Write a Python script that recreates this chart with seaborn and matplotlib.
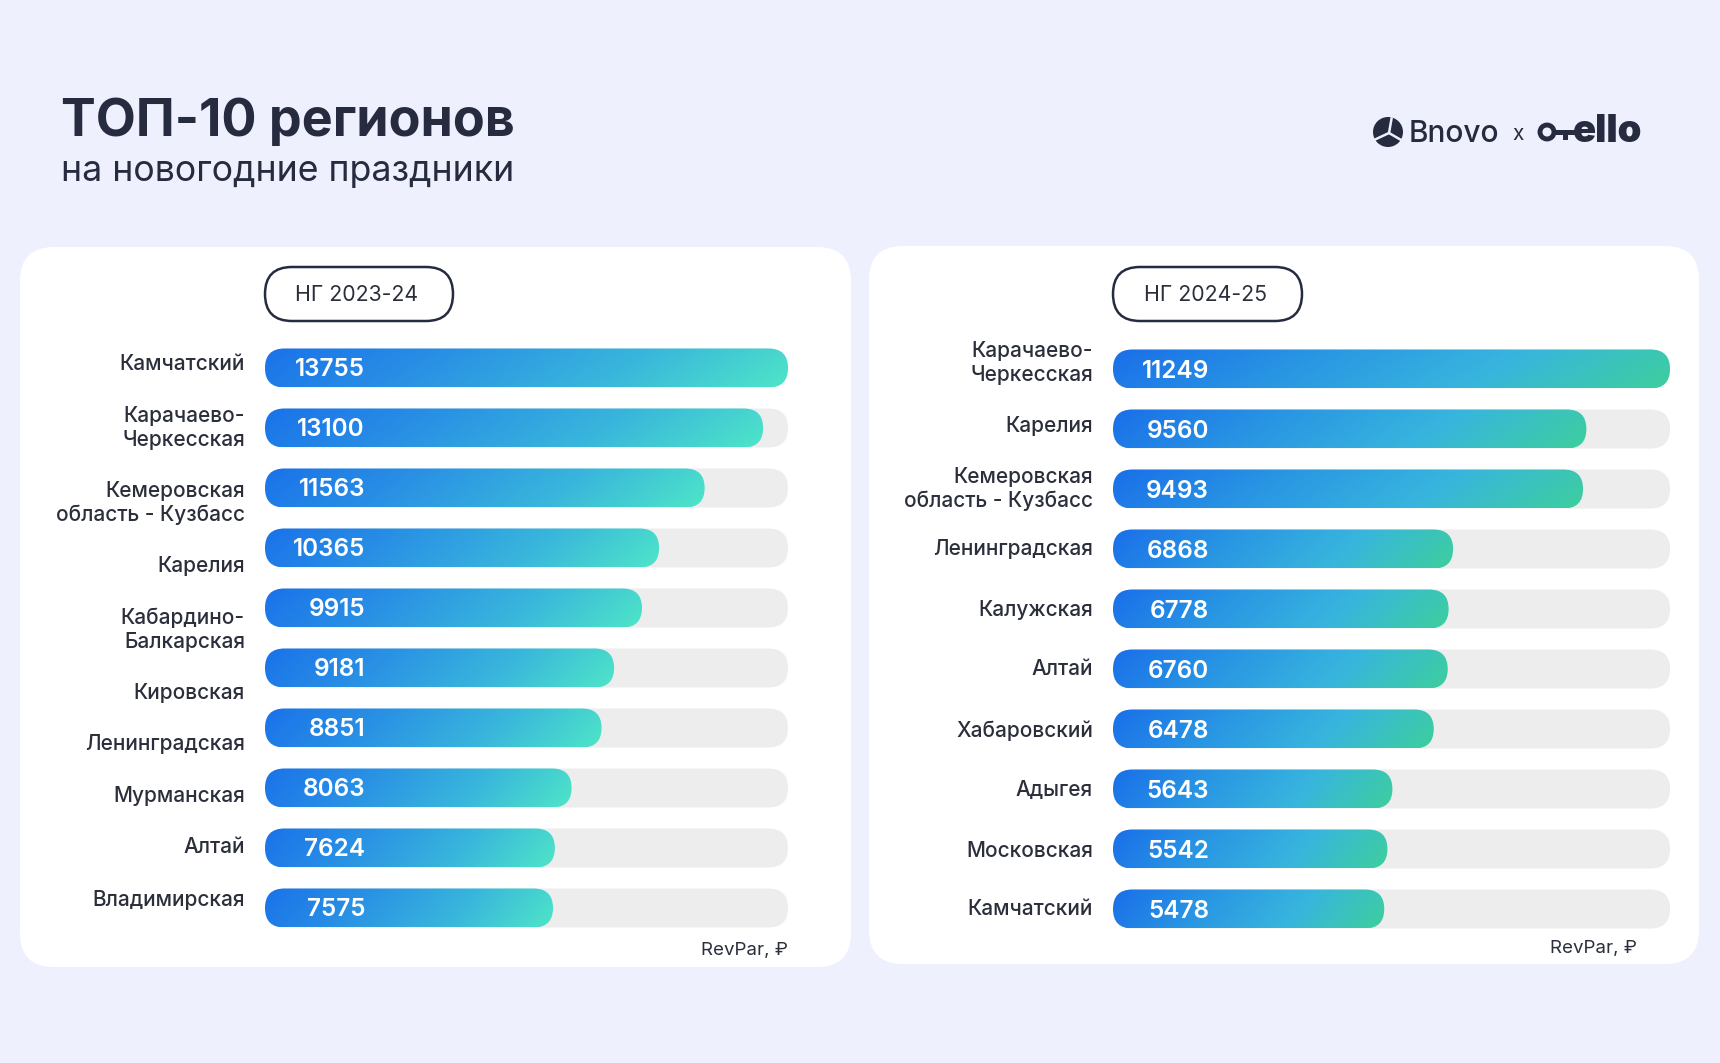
import numpy as np
import pandas as pd
import matplotlib.pyplot as plt
import seaborn as sns
from matplotlib.patches import FancyBboxPatch, Circle, Rectangle
from matplotlib.colors import LinearSegmentedColormap
from matplotlib.transforms import offset_copy

# данные: RevPar по регионам на новогодние праздники
regions_2324 = ["Камчатский", "Карачаево-\nЧеркесская", "Кемеровская\nобласть - Кузбасс",
                "Карелия", "Кабардино-\nБалкарская", "Кировская", "Ленинградская",
                "Мурманская", "Алтай", "Владимирская"]
revpar_2324 = [13755, 13100, 11563, 10365, 9915, 9181, 8851, 8063, 7624, 7575]

regions_2425 = ["Карачаево-\nЧеркесская", "Карелия", "Кемеровская\nобласть - Кузбасс",
                "Ленинградская", "Калужская", "Алтай", "Хабаровский", "Адыгея",
                "Московская", "Камчатский"]
revpar_2425 = [11249, 9560, 9493, 6868, 6778, 6760, 6478, 5643, 5542, 5478]

period_labels = ["НГ 2023-24", "НГ 2024-25"]
unit_label = "RevPar, ₽"

# стиль
BG = "#eef1fd"
DARK = "#262b3f"
TEXT = "#2b2f3b"
TRACK = "#ededed"

sns.set_theme(style="white")
plt.rcParams['font.family'] = ['Inter', 'DejaVu Sans']

W, H = 1720, 1063
fig = plt.figure(figsize=(W / 100, H / 100), dpi=100)
fig.patch.set_facecolor(BG)

# фон в пиксельных координатах
bg = fig.add_axes([0, 0, 1, 1])
bg.set_xlim(0, W)
bg.set_ylim(H, 0)
bg.axis('off')

bg.text(61, 136, "ТОП-10 регионов", fontsize=37.5, fontweight='bold', color=DARK, va='baseline')
bg.text(61, 181, "на новогодние праздники", fontsize=25.7, color=DARK, va='baseline')

# логотип
bg.add_patch(Circle((1388, 132), 15, fc=DARK, ec='none'))
for ang in [80, 205, 330]:
    a = np.deg2rad(ang)
    bg.plot([1389, 1389 + 16 * np.cos(a)], [133, 133 - 16 * np.sin(a)], color=BG, lw=1.8,
            solid_capstyle='butt')
bg.text(1409, 142, "Bnovo", fontsize=21.5, fontweight='medium', color=DARK, va='baseline')
bg.text(1518, 140, "x", fontsize=15, color=DARK, va='baseline', ha='center')
bg.add_patch(Circle((1547, 132), 7, fc='none', ec=DARK, lw=3.5))
bg.add_patch(Rectangle((1553, 129.5), 24, 5.5, fc=DARK, ec='none'))
bg.add_patch(Rectangle((1563, 133), 5, 7, fc=DARK, ec='none'))
bg.text(1573, 142, "ello", fontsize=27.5, fontweight='black', color=DARK, va='baseline')

# карточки и подписи периодов
cards = [(20, 247, 831, 720), (869, 246, 830, 718)]
pills = [(265, 267, 188, 54), (1113, 267, 189, 54)]
for (cx, cy, cw, ch), (px, py, pw, ph), lab in zip(cards, pills, period_labels):
    bg.add_patch(FancyBboxPatch((cx, cy), cw, ch, boxstyle="round,pad=0,rounding_size=34",
                                fc='white', ec='none'))
    bg.add_patch(FancyBboxPatch((px, py), pw, ph, boxstyle=f"round,pad=0,rounding_size={ph / 2}",
                                fc='white', ec=DARK, lw=1.8))
    bg.text(px + pw / 2 - 2, py + ph / 2 + 1, lab, fontsize=15.3, color=TEXT, ha='center', va='center')

bg.text(788, 950, unit_label, fontsize=13.5, color=TEXT, ha='right', va='center')
bg.text(1637, 948, unit_label, fontsize=13.5, color=TEXT, ha='right', va='center')

cmap_left = LinearSegmentedColormap.from_list("l", ["#1a72ea", "#2a92e4", "#39b6dc", "#4ee5c8"])
cmap_right = LinearSegmentedColormap.from_list("r", ["#1a6fe9", "#2996e3", "#38b5de", "#3dcf9e"])

u = np.linspace(0, 1, 256)
v = np.linspace(0, 1, 24)
grad = np.clip(0.9 * u[None, :] + 0.1 * v[:, None], 0, 1)


def draw_panel(box, regions, values, cmap, label_dy, value_dx):
    x0, y0, x1, y1 = box
    ax = fig.add_axes([x0 / W, 1 - y1 / H, (x1 - x0) / W, (y1 - y0) / H])
    df = pd.DataFrame({"region": regions, "revpar": values})
    sns.barplot(data=df, x="revpar", y="region", orient="h", width=0.65, color=cmap(0.0), ax=ax)
    n = len(values)
    vmax = max(values)
    ax.set_xlim(0, vmax)
    ax.set_ylim(n - 0.5, -0.5)
    ax.axis('off')

    px_x = (x1 - x0) / vmax
    px_y = (y1 - y0) / n
    bars = sorted(ax.patches, key=lambda p: p.get_y())
    for i, p in enumerate(bars):
        bx, by, bw, bh = p.get_x(), p.get_y(), p.get_width(), p.get_height()
        p.set_visible(False)
        r = bh * px_y / 2 / px_x
        style = f"round,pad=0,rounding_size={r}"
        ax.add_patch(FancyBboxPatch((0, by), vmax, bh, boxstyle=style, mutation_aspect=px_x / px_y,
                                    fc=TRACK, ec='none', zorder=1))
        clip = FancyBboxPatch((bx, by), bw, bh, boxstyle=style, mutation_aspect=px_x / px_y,
                              fc='none', ec='none', zorder=2)
        ax.add_patch(clip)
        im = ax.imshow(grad, cmap=cmap, extent=(bx, bx + bw, by + bh, by), aspect='auto',
                       interpolation='bicubic', zorder=3)
        im.set_clip_path(clip)
        yc = by + bh / 2
        tv = offset_copy(ax.transData, fig=fig, x=value_dx, y=-8.5, units='dots')
        ax.text(0, yc, f"{values[i]}", transform=tv, fontsize=17.5, fontweight='semibold',
                color='white', ha='right', va='baseline', zorder=4)
        tl = offset_copy(ax.transData, fig=fig, x=-20, y=-label_dy[i], units='dots')
        ax.text(0, yc, regions[i], transform=tl, fontsize=15, fontweight='medium', color=TEXT,
                ha='right', va='center', multialignment='right', linespacing=1.22, zorder=4,
                clip_on=False)
    ax.set_xlim(0, vmax)
    ax.set_ylim(n - 0.5, -0.5)
    return ax


dy_left = [-4, 0, 15, 18, 22, 25, 16, 8, -1, -8]
dy_right = [-6, -3, 0, 0, 1, 0, 2, 1, 2, 0]

draw_panel((265, 338, 788, 938), regions_2324, revpar_2324, cmap_left, dy_left, 100)
draw_panel((1113, 339, 1670, 939), regions_2425, revpar_2425, cmap_right, dy_right, 96)

fig.savefig("out.png", dpi=100, facecolor=BG)
